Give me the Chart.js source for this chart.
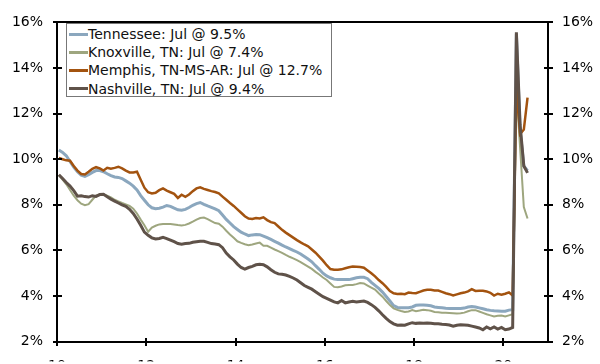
<!DOCTYPE html>
<html>
<head>
<meta charset="utf-8">
<script src="https://cdn.jsdelivr.net/npm/chart.js@4.4.1/dist/chart.umd.min.js"></script>
<style>
  html, body { margin: 0; padding: 0; background: #ffffff; }
  #wrap { position: relative; width: 600px; height: 364px; overflow: hidden; }
  #legend {
    position: absolute; left: 66px; top: 23px; width: 264px; height: 71px;
    border: 1px solid #777777; background: #ffffff;
    font-family: 'DejaVu Sans', Verdana, sans-serif; font-size: 14px; color: #111111;
    padding-top: 1px; box-sizing: content-box;
  }
  #legend .row { height: 18.2px; line-height: 18.2px; white-space: nowrap; display: flex; align-items: center; }
  #legend .swatch { display: inline-block; width: 19px; height: 3px; margin-left: 2px; }
  .frame { position: absolute; border: 2px solid #000000; box-sizing: border-box; pointer-events: none; }
  .tick { position: absolute; background: #000000; pointer-events: none; }
</style>
</head>
<body>
<div id="wrap">
  <canvas id="chart" width="600" height="364"></canvas>
  <div id="legend"></div>
</div>
<script>
// Unemployment rate, monthly, Jan 2010 through Jul 2020 (percent)
const startYear = 10;          // two-digit year of the first observation
const lastMonthName = 'Jul';   // month of the latest observation

const seriesNames = ['Tennessee', 'Knoxville, TN', 'Memphis, TN-MS-AR', 'Nashville, TN'];

const tennessee = [
  10.4, 10.3, 10.15, 9.9, 9.65, 9.45, 9.3, 9.25, 9.32, 9.42, 9.5, 9.5,
  9.45, 9.36, 9.28, 9.22, 9.2, 9.15, 9.05, 8.95, 8.82, 8.65, 8.4, 8.2,
  8.0, 7.87, 7.83, 7.85, 7.9, 7.97, 7.93, 7.85, 7.78, 7.76, 7.8, 7.88,
  7.98, 8.05, 8.1, 8.02, 7.95, 7.89, 7.82, 7.74, 7.55, 7.36, 7.2, 7.04,
  6.92, 6.8, 6.72, 6.65, 6.68, 6.7, 6.69, 6.63, 6.56, 6.48, 6.4, 6.32,
  6.23, 6.15, 6.08, 6.0, 5.93, 5.84, 5.73, 5.62, 5.5, 5.33, 5.17, 5.0,
  4.88, 4.8, 4.74, 4.72, 4.72, 4.72, 4.72, 4.76, 4.8, 4.82, 4.82, 4.76,
  4.6, 4.47, 4.33, 4.17, 3.98, 3.78, 3.58, 3.5, 3.49, 3.49, 3.49, 3.52,
  3.59, 3.6, 3.6, 3.59, 3.57, 3.52, 3.5, 3.48, 3.46, 3.45, 3.45, 3.45,
  3.45, 3.47, 3.52, 3.54, 3.52, 3.48, 3.44, 3.4, 3.37, 3.35, 3.34, 3.33,
  3.33, 3.38, 3.4, 15.5, 11.3, 9.7, 9.5
];

const knoxville = [
  9.3, 9.1, 8.9, 8.65, 8.4, 8.2, 8.05, 7.98, 8.03, 8.22, 8.4, 8.45,
  8.45, 8.4, 8.33, 8.22, 8.15, 8.08, 8.02, 7.95, 7.83, 7.62, 7.35, 7.1,
  6.82, 7.0, 7.08, 7.14, 7.16, 7.16, 7.16, 7.14, 7.11, 7.09, 7.12, 7.18,
  7.26, 7.35, 7.42, 7.44, 7.37, 7.28, 7.2, 7.17, 7.04, 6.86, 6.7, 6.55,
  6.4, 6.33, 6.27, 6.23, 6.26, 6.3, 6.34, 6.2, 6.2, 6.12, 6.04, 5.97,
  5.89, 5.8, 5.72, 5.65, 5.57, 5.49, 5.39, 5.29, 5.19, 5.06, 4.94, 4.81,
  4.7, 4.55, 4.4, 4.38, 4.42, 4.47, 4.48, 4.48, 4.52, 4.57, 4.55, 4.46,
  4.37, 4.28, 4.12, 3.97, 3.78, 3.6, 3.46, 3.39, 3.34, 3.3, 3.32, 3.38,
  3.33, 3.36, 3.4, 3.38, 3.35, 3.3, 3.29, 3.27, 3.26, 3.25, 3.24, 3.23,
  3.24, 3.27, 3.33, 3.38, 3.38, 3.32, 3.26, 3.2, 3.15, 3.1, 3.13, 3.14,
  3.1, 3.15, 3.2, 13.0, 10.5, 7.9, 7.4
];

const memphis = [
  10.05, 10.0, 9.95, 9.93, 9.7, 9.5, 9.35, 9.33, 9.45, 9.58, 9.65, 9.6,
  9.5, 9.62, 9.58, 9.62, 9.67, 9.6, 9.5, 9.42, 9.42, 9.45, 9.1, 8.75,
  8.55, 8.5, 8.53, 8.64, 8.72, 8.62, 8.55, 8.48, 8.3, 8.44, 8.35, 8.45,
  8.6, 8.72, 8.77, 8.7, 8.65, 8.6, 8.56, 8.5, 8.36, 8.22, 8.08, 7.95,
  7.8, 7.65, 7.5, 7.4, 7.38, 7.42, 7.4, 7.45, 7.33, 7.24, 7.2, 7.05,
  6.9, 6.78, 6.67, 6.56, 6.45, 6.35, 6.26, 6.18, 6.04, 5.9, 5.73, 5.55,
  5.35, 5.18, 5.15, 5.15, 5.17, 5.22, 5.26, 5.29, 5.28, 5.27, 5.24, 5.12,
  5.0, 4.86, 4.7, 4.56, 4.4, 4.22, 4.12, 4.09, 4.1, 4.08, 4.15, 4.13,
  4.12, 4.18, 4.24, 4.27, 4.27, 4.24, 4.24, 4.18, 4.12, 4.08, 4.02, 4.07,
  4.12, 4.15, 4.2, 4.3, 4.22, 4.23, 4.23, 4.2, 4.14, 4.02, 4.1, 4.06,
  4.1, 4.16, 4.02, 13.2, 11.1, 11.3, 12.7
];

const nashville = [
  9.32, 9.15, 8.98, 8.82, 8.62, 8.38, 8.4, 8.36, 8.34, 8.4, 8.37, 8.45,
  8.46, 8.35, 8.25, 8.16, 8.08, 8.0, 7.93, 7.8, 7.62, 7.38, 7.1, 6.8,
  6.66, 6.55, 6.5, 6.52, 6.57, 6.52, 6.45, 6.38, 6.3, 6.27, 6.3, 6.31,
  6.36, 6.38, 6.4, 6.4, 6.35, 6.3, 6.28, 6.25, 6.12, 5.88, 5.72, 5.58,
  5.4, 5.25, 5.18, 5.25, 5.3, 5.37, 5.39, 5.37, 5.28, 5.15, 5.04, 4.97,
  4.95, 4.92, 4.86, 4.79, 4.7, 4.58, 4.46, 4.38, 4.3, 4.19, 4.08, 3.97,
  3.9, 3.82, 3.74, 3.7, 3.8, 3.7, 3.74, 3.77, 3.74, 3.76, 3.78, 3.72,
  3.62, 3.5, 3.35, 3.18, 3.02, 2.88, 2.78, 2.72, 2.73, 2.72, 2.78, 2.83,
  2.8, 2.82, 2.8, 2.82, 2.8, 2.78, 2.78, 2.76, 2.75, 2.73, 2.68, 2.72,
  2.74, 2.73, 2.72, 2.68, 2.64, 2.6, 2.52, 2.64, 2.56, 2.64, 2.55, 2.62,
  2.52, 2.55, 2.62, 15.57, 11.5, 9.7, 9.4
];

const xTickValues = [10, 12, 14, 16, 18, 20];
const yTickValues = [2, 4, 6, 8, 10, 12, 14, 16];

const seriesColors = ['#8ba7be', '#9ea67f', '#a3530f', '#5f5249'];
const seriesWidths = [3, 2, 2.5, 3];

// Observations sit at mid-month on a decimal-year axis
const monthPos = tennessee.map((_, i) => startYear + (i + 0.5) / 12);
const toPoints = arr => arr.map((v, i) => ({ x: monthPos[i], y: v }));
const allSeries = [tennessee, knoxville, memphis, nashville];

const FONT = "'DejaVu Sans', Verdana, sans-serif";
Chart.defaults.font.family = FONT;
Chart.defaults.font.size = 14;
Chart.defaults.color = '#000000';

const datasets = allSeries.map((arr, k) => ({
  label: `${seriesNames[k]}: ${lastMonthName} @ ${arr[arr.length - 1].toFixed(1)}%`,
  data: toPoints(arr),
  borderColor: seriesColors[k],
  backgroundColor: seriesColors[k],
  borderWidth: seriesWidths[k],
  pointRadius: 0,
  tension: 0,
  fill: false,
  order: 3 - k   // later series drawn on top
}));

// Legend rows (HTML, boxed) built from the dataset labels
const legendEl = document.getElementById('legend');
datasets.forEach(ds => {
  const row = document.createElement('div');
  row.className = 'row';
  const sw = document.createElement('span');
  sw.className = 'swatch';
  sw.style.background = ds.borderColor;
  const tx = document.createElement('span');
  tx.textContent = ds.label;
  row.appendChild(sw);
  row.appendChild(tx);
  legendEl.appendChild(row);
});

// Plot frame and tick marks straddling the axes: drawn on the canvas,
// and mirrored as overlay elements positioned from the same scales
let overlayBuilt = false;
const framePlugin = {
  id: 'frame',
  afterDraw(chart) {
    const { ctx, chartArea: a } = chart;
    const xs = chart.scales.x, yl = chart.scales.y;
    const L = Math.round(a.left), R = Math.round(a.right);
    const T = Math.round(a.top), B = Math.round(a.bottom);
    ctx.save();
    ctx.strokeStyle = '#000000';
    ctx.lineWidth = 1.8;
    ctx.beginPath();
    ctx.moveTo(L, T); ctx.lineTo(R, T); ctx.lineTo(R, B); ctx.lineTo(L, B); ctx.closePath();
    ctx.stroke();
    ctx.lineWidth = 1.4;
    ctx.beginPath();
    yTickValues.forEach(v => {
      const py = Math.round(yl.getPixelForValue(v));
      ctx.moveTo(L - 4, py); ctx.lineTo(L + 5, py);
      ctx.moveTo(R - 4, py); ctx.lineTo(R + 5, py);
    });
    xTickValues.forEach(v => {
      const px = Math.round(xs.getPixelForValue(v));
      ctx.moveTo(px, B - 4); ctx.lineTo(px, B + 4);
    });
    ctx.stroke();
    ctx.restore();

    if (overlayBuilt) return;
    overlayBuilt = true;
    const wrap = document.getElementById('wrap');
    const frame = document.createElement('div');
    frame.className = 'frame';
    Object.assign(frame.style, {
      left: (L - 1) + 'px', top: (T - 1) + 'px',
      width: (R - L + 2) + 'px', height: (B - T + 2) + 'px'
    });
    wrap.appendChild(frame);
    const addTick = (x, y, w, h) => {
      const t = document.createElement('div');
      t.className = 'tick';
      Object.assign(t.style, { left: x + 'px', top: y + 'px', width: w + 'px', height: h + 'px' });
      wrap.appendChild(t);
    };
    yTickValues.forEach(v => {
      const py = Math.round(yl.getPixelForValue(v));
      addTick(L - 4, py - 1, 9, 1.5);
      addTick(R - 4, py - 1, 9, 1.5);
    });
    xTickValues.forEach(v => {
      const px = Math.round(xs.getPixelForValue(v));
      addTick(px - 1, B - 4, 1.5, 8);
    });
  }
};

const yAxisCommon = {
  type: 'linear',
  min: 2,
  max: 16,
  afterBuildTicks: axis => { axis.ticks = yTickValues.map(v => ({ value: v })); },
  grid: { display: false, drawTicks: false },
  border: { display: false },
  ticks: { callback: v => v + '%', padding: 14, color: '#000000', font: { size: 14 } }
};

new Chart(document.getElementById('chart'), {
  type: 'line',
  data: { datasets },
  options: {
    responsive: false,
    devicePixelRatio: 1,
    animation: false,
    layout: { padding: { top: 6.6, left: 0, right: 0, bottom: 0 } },
    plugins: { legend: { display: false }, tooltip: { enabled: false } },
    scales: {
      x: {
        type: 'linear',
        min: 10,
        max: 21,
        afterBuildTicks: axis => { axis.ticks = xTickValues.map(v => ({ value: v })); },
        grid: { display: false, drawTicks: false },
        border: { display: false },
        ticks: { callback: v => String(v), padding: 16, maxRotation: 0, color: '#000000', font: { size: 14 } },
        afterFit: axis => { axis.height = 20; }
      },
      y: Object.assign({}, yAxisCommon, {
        position: 'left',
        afterFit: axis => { axis.width = 57; }
      }),
      y2: Object.assign({}, yAxisCommon, {
        position: 'right',
        afterFit: axis => { axis.width = 52; }
      })
    }
  },
  plugins: [framePlugin]
});
</script>
</body>
</html>
